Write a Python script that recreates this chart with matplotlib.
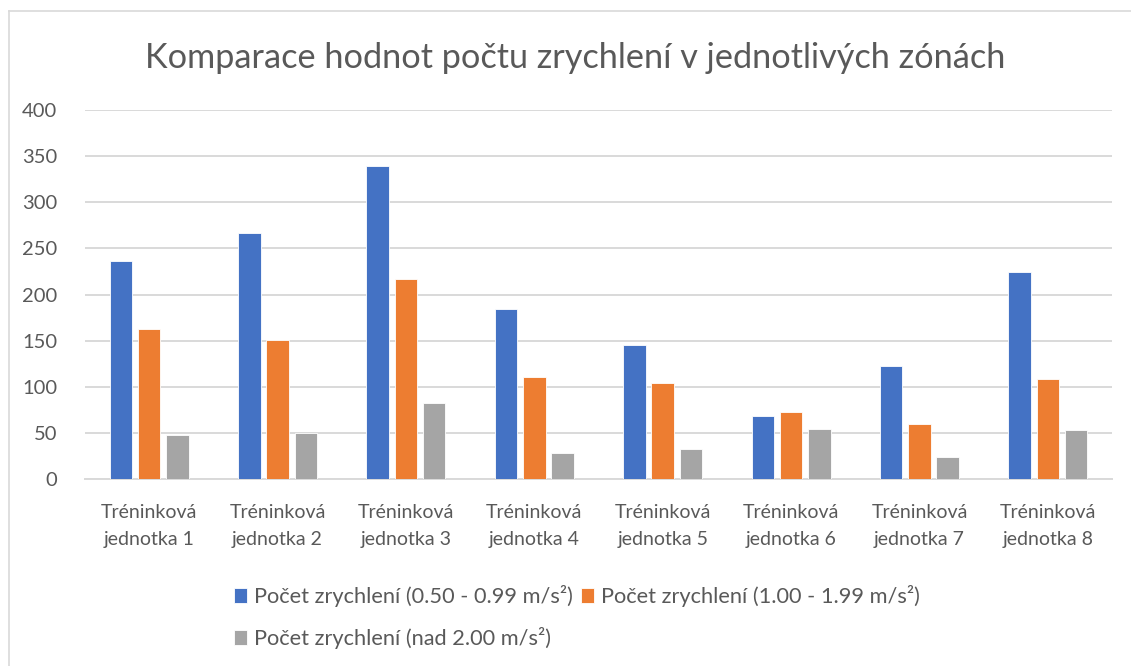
import numpy as np
import matplotlib
matplotlib.use('Agg')
import matplotlib.pyplot as plt
from matplotlib.lines import Line2D

categories = [f"Tréninková\njednotka {i}" for i in range(1, 9)]
series_names = ["Počet zrychlení (0.50 - 0.99 m/s²)",
                "Počet zrychlení (1.00 - 1.99 m/s²)",
                "Počet zrychlení (nad 2.00 m/s²)"]
low_zone = [236, 267, 339, 184, 145, 68, 123, 224]
mid_zone = [163, 151, 217, 111, 104, 73, 60, 108]
high_zone = [48, 50, 82, 28, 33, 54, 24, 53]
colors = ['#4472c4', '#ed7d31', '#a5a5a5']

plt.rcParams['font.family'] = ['Lato', 'DejaVu Sans']

fig = plt.figure(figsize=(11.31, 6.66), dpi=100)
ax = fig.add_axes([85 / 1131, 1 - 479 / 666, (1112 - 85) / 1131, (479 - 110) / 666])

x = np.arange(len(categories))
w = 0.175
step = 0.22
bars = []
for k, vals in enumerate([low_zone, mid_zone, high_zone]):
    b = ax.bar(x + (k - 1) * step, vals, width=w, color=colors[k],
               edgecolor='white', linewidth=0.6, zorder=3, label=series_names[k])
    bars.append(b)

ax.set_xlim(-0.5, len(categories) - 0.5)
ax.set_ylim(0, 400)
ax.set_yticks(range(0, 401, 50))
ax.grid(axis='y', color='#d9d9d9', linewidth=1.4, zorder=0)
for s in ['top', 'right', 'left']:
    ax.spines[s].set_visible(False)
ax.spines['bottom'].set_color('#d9d9d9')
ax.spines['bottom'].set_linewidth(1.4)
ax.tick_params(axis='both', length=0, colors='#595959', labelsize=14.5)
ax.tick_params(axis='y', pad=20)
ax.tick_params(axis='x', pad=18)
ax.set_xticks(x)
ax.set_xticklabels(categories, linespacing=1.7, fontsize=14)

fig.text(575 / 1131, 1 - 58 / 666, "Komparace hodnot počtu zrychlení v jednotlivých zónách",
         ha='center', va='center', fontsize=24.7, color='#595959')

handles = [bars[0], bars[2], bars[1]]
labels = [series_names[0], series_names[2], series_names[1]]
leg = fig.legend(handles, labels, ncol=2, loc='center', bbox_to_anchor=(577 / 1131, 1 - 617 / 666),
                 frameon=False, fontsize=15.7, handlelength=0.6, handleheight=0.7,
                 handletextpad=0.3, columnspacing=0.4, labelspacing=0.9,
                 labelcolor='#595959')

# chart frame (left and top edges visible)
fig.add_artist(Line2D([9 / 1131, 9 / 1131], [0, 1 - 11 / 666], transform=fig.transFigure,
                      color='#d9d9d9', linewidth=1.2))
fig.add_artist(Line2D([9 / 1131, 1], [1 - 11 / 666, 1 - 11 / 666], transform=fig.transFigure,
                      color='#d9d9d9', linewidth=1.2))

fig.savefig('out.png', dpi=100)
